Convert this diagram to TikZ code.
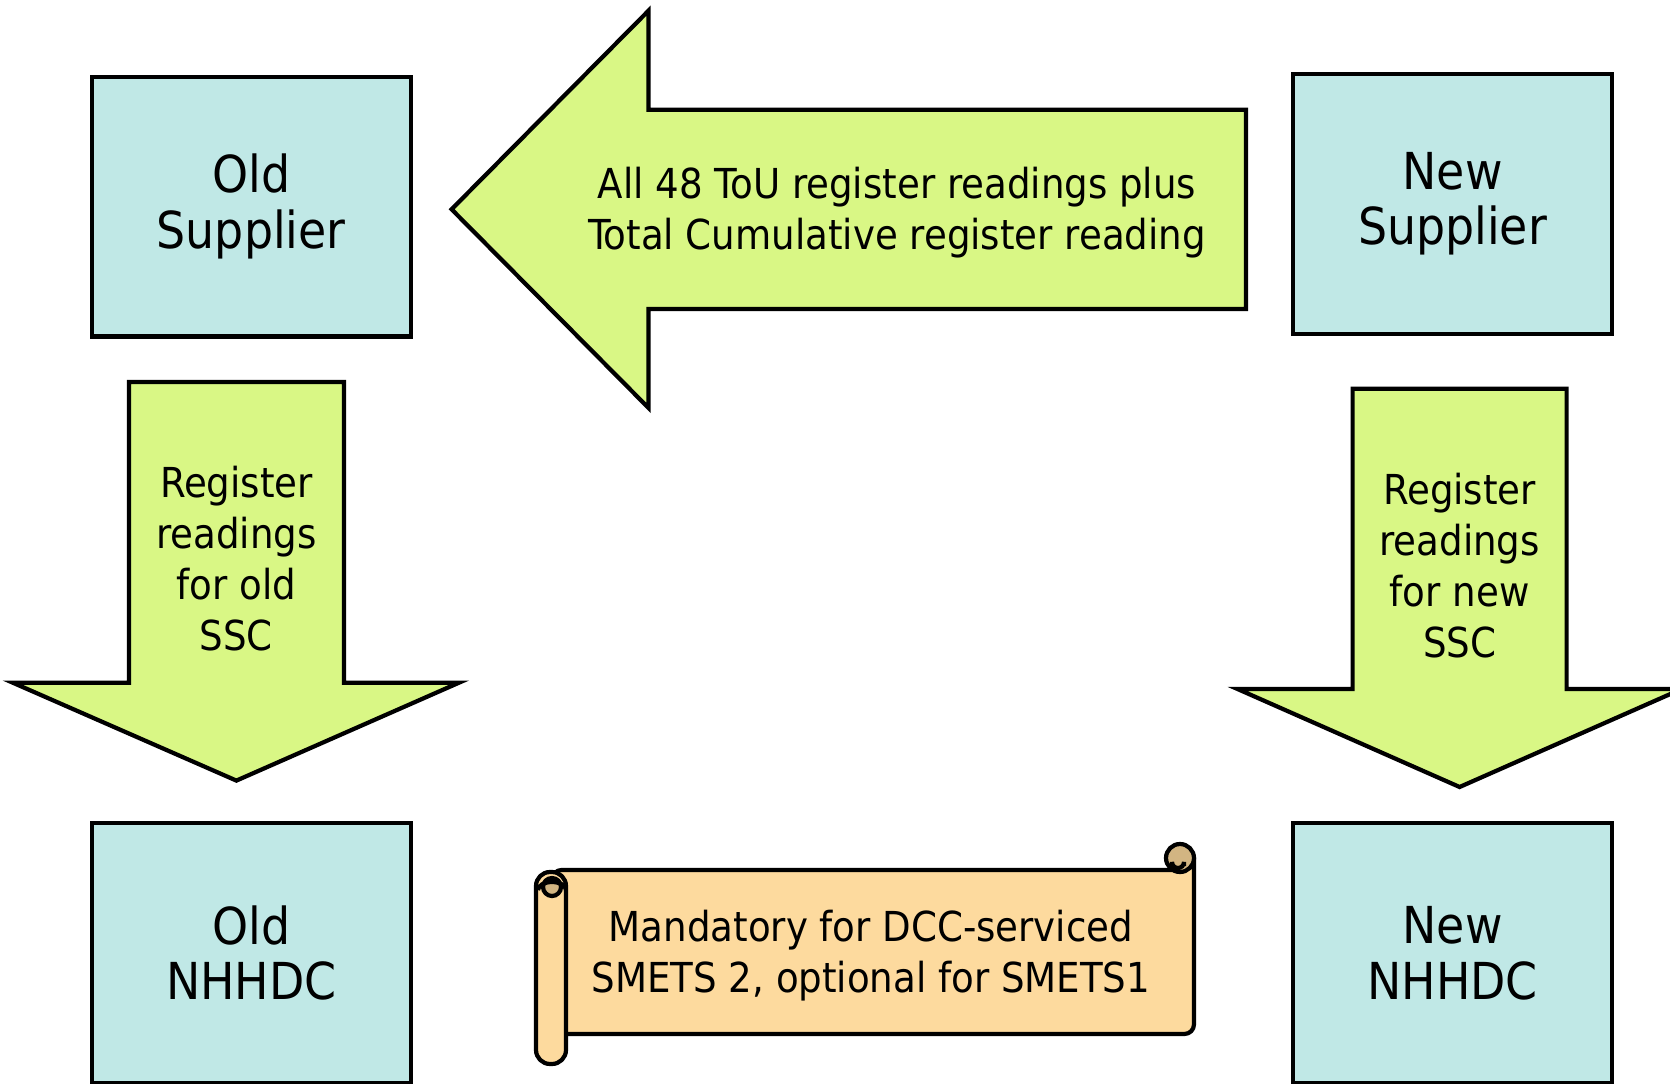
\documentclass[tikz,border=0pt]{standalone}
\usepackage{fontspec}
\setmainfont{DejaVu Sans Condensed}
\usetikzlibrary{positioning}

\definecolor{boxcyan}{RGB}{192,232,230}
\definecolor{arrowlime}{RGB}{217,247,133}
\definecolor{scrolltan}{RGB}{253,218,158}
\definecolor{curltan}{RGB}{210,181,130}

\newcommand\bigtxt{\fontsize{29}{31.7}\selectfont}
\newcommand\smalltxt{\fontsize{23.5}{29}\selectfont}

\begin{document}
\begin{tikzpicture}[
      x=0.02cm, y=-0.02cm,
      box/.style={draw, line width=2.4pt, fill=boxcyan, align=center, font=\bigtxt,
                  minimum width=6.38cm, minimum height=5.2cm, inner sep=0pt},
      barrow/.style={draw, line width=2.4pt, fill=arrowlime, line join=miter},
      scroll/.style={draw, line width=2.4pt, fill=scrolltan, line join=round},
      curl/.style={draw, line width=2.4pt, fill=curltan},
      lbl/.style={align=center, font=\smalltxt, inner sep=0pt},
    ]
    \useasboundingbox (0,0) rectangle (1670,1084);
    \clip (0,0) rectangle (1670,1084);

    \node[box] (oldsup) at (251.3,206.6) {Old\\Supplier};
    \node[box] (newsup) at (1452.5,203.8) {New\\Supplier};
    \node[box] (olddc) at (251.3,953) {Old\\NHHDC};
    \node[box] (newdc) at (1452.5,953) {New\\NHHDC};

    % block arrows
    \draw[barrow] (451.6,209.3) -- (648.6,10.6) -- (648.6,109.7) -- (1246,109.7)
      -- (1246,308.9) -- (648.6,308.9) -- (648.6,408) -- cycle;
    \draw[barrow] (128.9,382) -- (344,382) -- (344,682.7) -- (459,682.7)
      -- (236.4,780.6) -- (12.8,682.7) -- (128.9,682.7) -- cycle;
    \draw[barrow] (1352.6,388.7) -- (1566.6,388.7) -- (1566.6,689) -- (1681.7,689)
      -- (1459.6,787) -- (1237.5,689) -- (1352.6,689) -- cycle;

    \node[lbl] (allreg) at (897,213) {All 48 ToU register readings plus\\Total Cumulative register reading};
    \node[lbl] (oldssc) at (236.4,559) {Register\\readings\\for old\\SSC};
    \node[lbl] (newssc) at (1459.6,565.5) {Register\\readings\\for new\\SSC};

    % scroll
    \draw[scroll] (552,870) -- (1180,870) -- (1180,858) -- (1194,858)
      [rounded corners=5.5pt] -- (1194,1034) -- (552,1034) -- cycle;
    \draw[curl] (1180,858) circle (14);
    \draw[line width=2.4pt] (1172,871) -- (1172,862) arc (180:0:6) -- (1184,866);
    \draw[scroll, rounded corners=8pt] (536,872) rectangle (566,1064);
    \draw[curl] (552,887) circle (9);
    \draw[line width=2.4pt] (538,890) arc (180:360:14 and 8);

    \node[lbl] (note) at (871,956) {Mandatory for DCC-serviced\\SMETS 2, optional for SMETS1};
\end{tikzpicture}
\end{document}
